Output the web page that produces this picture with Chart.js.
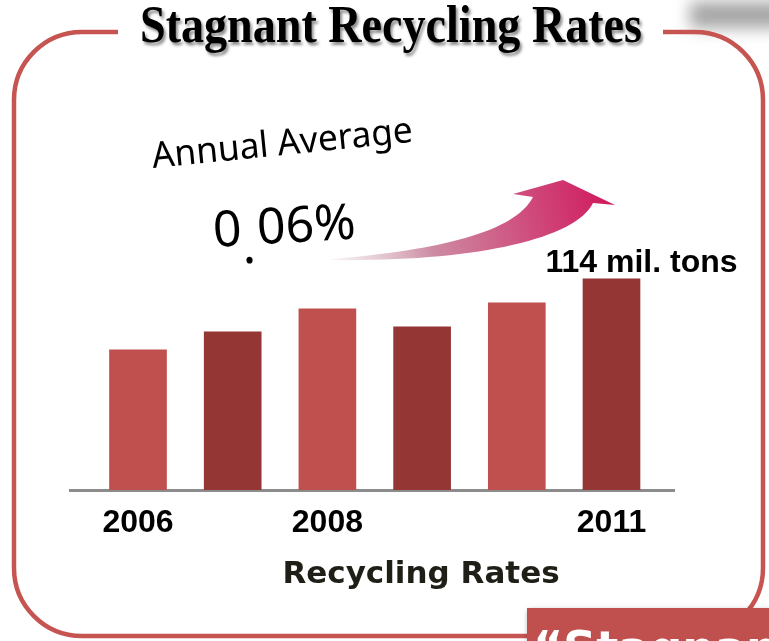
<!DOCTYPE html>
<html>
<head>
<meta charset="utf-8">
<script src="https://cdn.jsdelivr.net/npm/chart.js@4/dist/chart.umd.min.js"></script>
<style>
  body { margin: 0; background: #fff; }
  #wrap { width: 769px; height: 641px; position: relative; }
</style>
</head>
<body>
<div id="wrap"><canvas id="recycleChart"></canvas></div>
<script>
// data
let years = [2006, 2007, 2008, 2009, 2010, 2011];
let amounts = [75.6, 85.4, 97.8, 88.1, 101.0, 114];
let tickYears = [2006, 2008, 2011];
let barColors = ['#C0504D', '#943634', '#C0504D', '#943634', '#C0504D', '#943634'];
let lastLabel = '114 mil. tons';
let axisTitle = 'Recycling Rates';
let chartTitle = 'Stagnant Recycling Rates';

let decor = {
  id: 'decor',
  beforeDraw(chart) {
    let c = chart.ctx;
    c.save();
    c.fillStyle = '#fff';
    c.fillRect(0, 0, chart.width, chart.height);

    // gray smudge top right
    c.filter = 'blur(8px)';
    c.fillStyle = 'rgba(90,90,90,0.55)';
    c.fillRect(690, 2, 100, 26);
    c.filter = 'none';

    // rounded frame
    c.strokeStyle = '#C65552';
    c.lineWidth = 4.5;
    c.beginPath();
    c.roundRect(14, 32, 749, 604, 68);
    c.stroke();

    // title gap
    c.fillStyle = '#fff';
    c.fillRect(118, 16, 545, 32);
    c.shadowColor = 'rgba(0,0,0,0.45)';
    c.shadowOffsetX = 2;
    c.shadowOffsetY = 3;
    c.shadowBlur = 3;
    c.fillStyle = '#000';
    c.font = 'bold 53px "Liberation Serif"';
    c.textAlign = 'center';
    c.textBaseline = 'alphabetic';
    c.fillText(chartTitle, 391, 42, 502);
    c.shadowColor = 'transparent';

    // curved arrow
    let g = c.createLinearGradient(332, 259, 610, 190);
    g.addColorStop(0, 'rgba(205,175,185,0.15)');
    g.addColorStop(0.35, '#cd8aa2');
    g.addColorStop(0.7, '#cf4c7c');
    g.addColorStop(1, '#d0195e');
    c.fillStyle = g;
    c.beginPath();
    c.moveTo(332, 259);
    c.bezierCurveTo(440, 250, 515, 232, 533, 197);
    c.lineTo(513, 194);
    c.lineTo(563, 180);
    c.lineTo(615, 205);
    c.lineTo(593, 203);
    c.bezierCurveTo(575, 240, 470, 262, 332, 260);
    c.closePath();
    c.fill();

    // handwritten note
    c.fillStyle = '#000';
    c.textAlign = 'left';
    c.save();
    c.translate(153, 168);
    c.rotate(-0.1);
    c.font = '36px "Noto Sans"';
    c.fillText('Annual Average', 0, 0, 262);
    c.restore();
    c.save();
    c.translate(214, 247);
    c.rotate(-0.06);
    c.font = '50px "Noto Sans"';
    c.fillText('0', 0, 0);
    c.fillText('.', 28, 18);
    c.fillText('06%', 44, 0, 100);
    c.restore();

    // clipped red box at the bottom right
    c.shadowColor = 'rgba(0,0,0,0.5)';
    c.shadowBlur = 6;
    c.fillStyle = '#C0504D';
    c.fillRect(527, 608, 260, 50);
    c.shadowColor = 'transparent';
    c.fillStyle = '#fff';
    c.font = 'bold 46px "DejaVu Sans"';
    c.fillText('\u201CStagnan', 533, 664);
    c.restore();
  },
  afterDraw(chart) {
    let c = chart.ctx;
    let bar = chart.getDatasetMeta(0).data[amounts.length - 1];
    c.save();
    c.fillStyle = '#000';
    c.textAlign = 'center';
    c.textBaseline = 'alphabetic';
    c.font = 'bold 32px "Liberation Sans"';
    c.fillText(lastLabel, bar.x + 30, bar.y - 7);
    c.fillStyle = '#1f1f17';
    c.font = 'bold 31px "DejaVu Sans"';
    c.fillText(axisTitle, 421, 583);
    c.restore();
  }
};

let ctx = document.getElementById('recycleChart').getContext('2d');
let recycleChart = new Chart(ctx, {
  type: 'bar',
  data: {
    datasets: [{
      data: years.map((y, i) => ({ x: y, y: amounts[i] })),
      backgroundColor: barColors,
      barThickness: 57,
      borderWidth: 0,
    }]
  },
  options: {
    responsive: true,
    maintainAspectRatio: false,
    animation: false,
    layout: {
      padding: { left: 70, right: 95, top: 212, bottom: 0 }
    },
    plugins: {
      legend: { display: false },
      tooltip: { enabled: false },
    },
    scales: {
      x: {
        type: 'linear',
        min: 2005.282,
        max: 2011.66,
        offset: false,
        afterBuildTicks: s => { s.ticks = tickYears.map(v => ({ value: v })); },
        afterFit: s => { s.height = 151; },
        grid: { display: false, drawTicks: false },
        border: { display: true, color: '#8c8c8c', width: 3 },
        ticks: {
          padding: 14,
          color: '#000',
          font: { family: 'Liberation Sans', weight: 'bold', size: 32 },
          maxRotation: 0,
          autoSkip: false,
          callback: v => String(v),
        },
      },
      y: {
        display: false,
        min: 0,
        max: 150,
      },
    },
  },
  plugins: [decor],
});
</script>
</body>
</html>
